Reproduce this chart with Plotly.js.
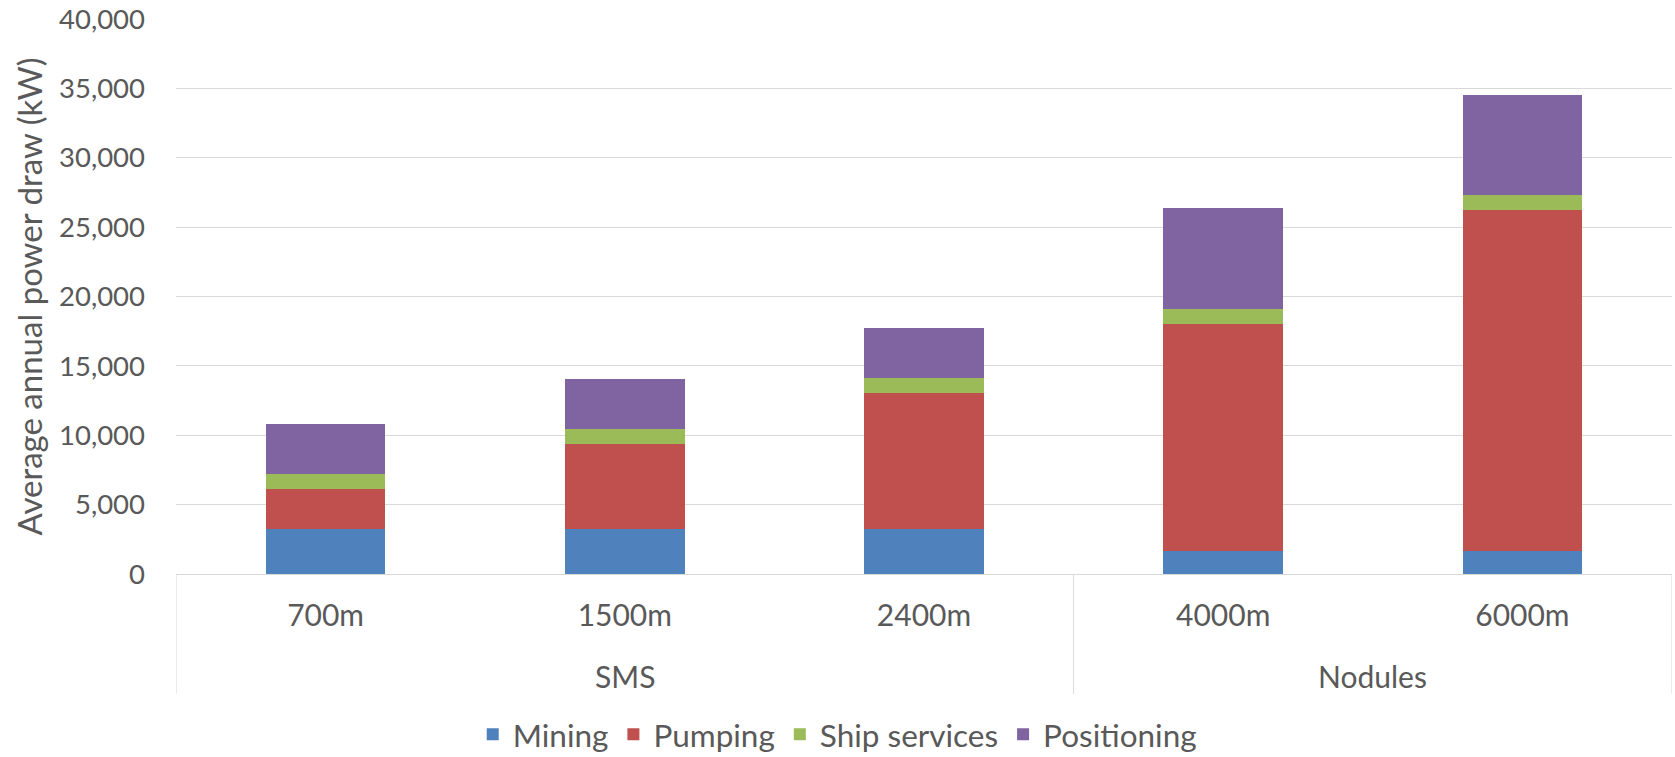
<!DOCTYPE html>
<html>
<head>
<meta charset="utf-8">
<script src="https://cdn.plot.ly/plotly-3.0.1.min.js"></script>
<style>
html,body{margin:0;padding:0;background:#fff;}
#chart{width:1675px;height:757px;}
</style>
</head>
<body>
<div id="chart"></div>
<script>
const groups = ["SMS", "SMS", "SMS", "Nodules", "Nodules"];
const depths = ["700m", "1500m", "2400m", "4000m", "6000m"];
const mining = [3250, 3250, 3250, 1690, 1690];
const pumping = [2860, 6110, 9780, 16340, 24530];
const shipServices = [1100, 1100, 1100, 1100, 1100];
const positioning = [3580, 3610, 3620, 7230, 7230];
const yTicks = [0, 5000, 10000, 15000, 20000, 25000, 30000, 35000, 40000];
const yTickText = ["0", "5,000", "10,000", "15,000", "20,000", "25,000", "30,000", "35,000", "40,000"];

const FONT = "Lato, 'Open Sans', sans-serif";
const GREY = "#595959";
const LINE = "#d9d9d9";

function bar(name, vals, color) {
  return {
    type: "bar",
    name: name,
    x: depths,
    y: vals,
    marker: {color: color, line: {width: 0}},
    hoverinfo: "name+y"
  };
}

const data = [
  bar("Mining", mining, "#4F81BD"),
  bar("Pumping", pumping, "#C0504D"),
  bar("Ship services", shipServices, "#9BBB59"),
  bar("Positioning", positioning, "#8064A2")
];

// group spans (index ranges) derived from groups array
const spans = [];
groups.forEach((g, i) => {
  if (!spans.length || spans[spans.length - 1].name !== g) spans.push({name: g, start: i, end: i});
  else spans[spans.length - 1].end = i;
});

const annotations = spans.map(s => ({
  x: (s.start + s.end) / 2,
  xref: "x",
  y: -0.184,
  yref: "paper",
  text: s.name,
  showarrow: false,
  xanchor: "center",
  yanchor: "middle",
  font: {family: FONT, size: 30, color: GREY}
}));

const dividerX = [-0.5].concat(spans.map(s => s.end + 0.5));
const shapes = dividerX.map(x => ({
  type: "line",
  xref: "x",
  yref: "paper",
  x0: x, x1: x,
  y0: 0, y1: -0.216,
  line: {color: LINE, width: 1}
}));

const layout = {
  width: 1675,
  height: 757,
  barmode: "stack",
  bargap: 0.6,
  paper_bgcolor: "#fff",
  plot_bgcolor: "#fff",
  margin: {l: 176, r: 3, t: 19, b: 183},
  font: {family: FONT, color: GREY, size: 25},
  showlegend: true,
  legend: {
    orientation: "h",
    x: 0.442,
    xanchor: "center",
    xref: "paper",
    y: 0.03,
    yref: "container",
    yanchor: "middle",
    font: {family: FONT, size: 31.5, color: GREY},
    itemwidth: 30,
    traceorder: "normal"
  },
  annotations: annotations,
  shapes: shapes,
  xaxis: {
    type: "category",
    range: [-0.5, 4.5],
    showgrid: false,
    showline: true,
    linecolor: LINE,
    linewidth: 1,
    ticks: "",
    ticklabelstandoff: 15,
    tickfont: {family: FONT, size: 30, color: GREY}
  },
  yaxis: {
    range: [0, 40000],
    tickvals: yTicks,
    ticktext: yTickText,
    showgrid: true,
    gridcolor: LINE,
    gridwidth: 1,
    zeroline: false,
    showline: false,
    ticks: "",
    ticklabelstandoff: 30,
    tickfont: {family: FONT, size: 27.5, color: GREY},
    title: {text: "Average annual power draw (kW)", font: {family: FONT, size: 33, color: GREY}, standoff: 6}
  }
};

Plotly.newPlot("chart", data, layout, {displayModeBar: false, staticPlot: true});
</script>
</body>
</html>
